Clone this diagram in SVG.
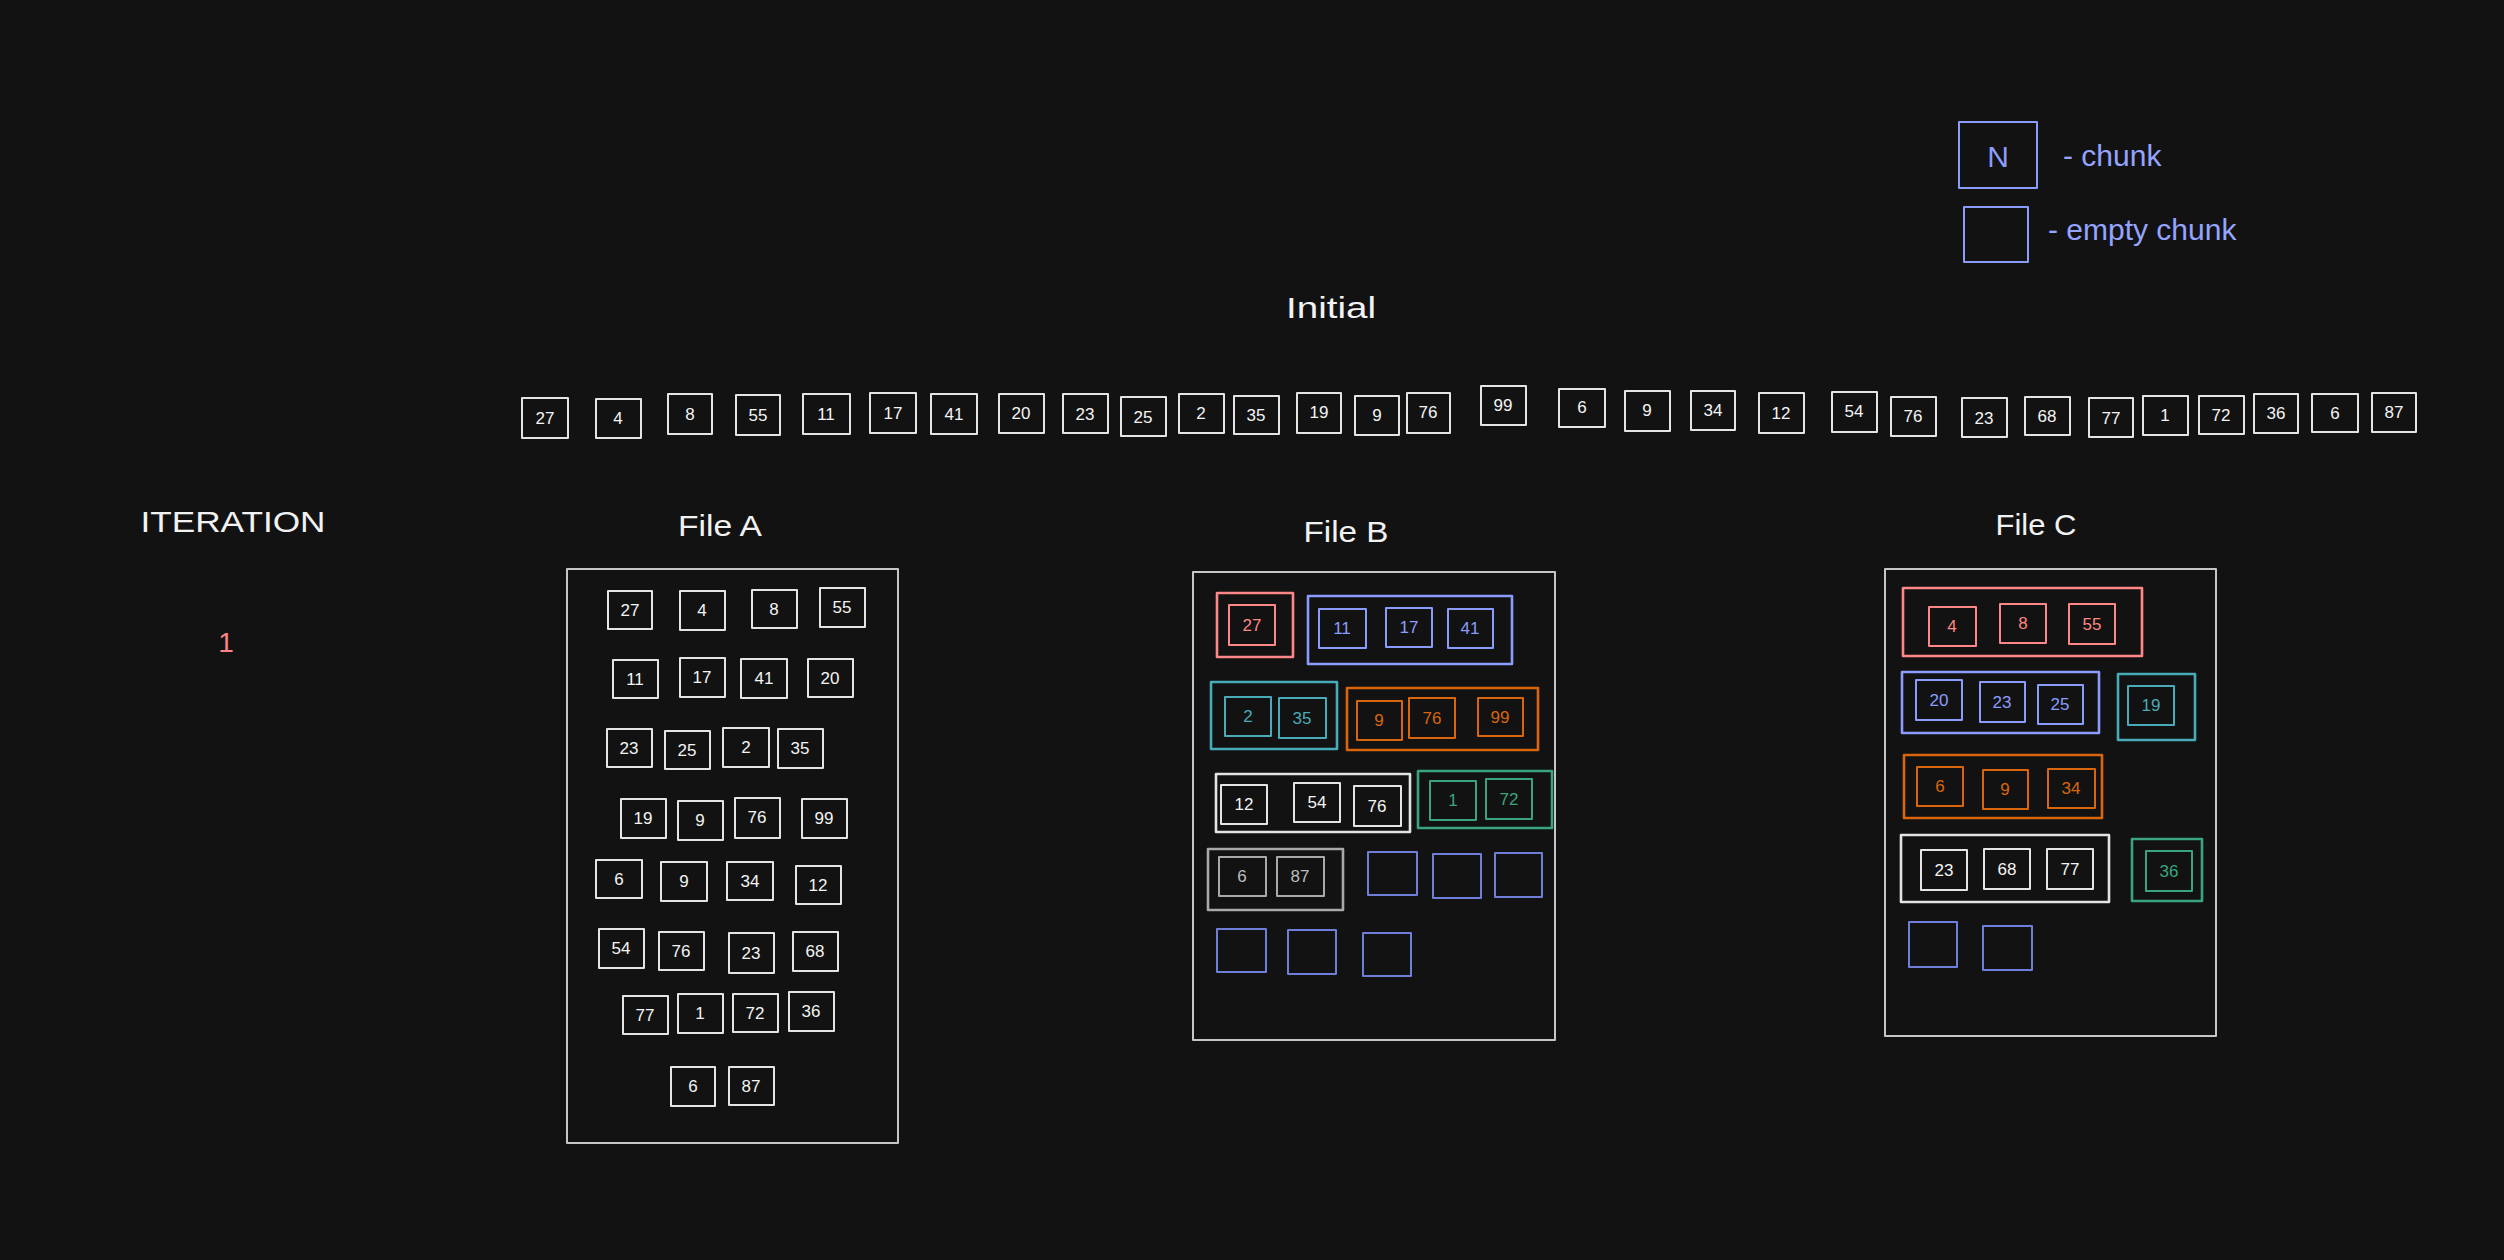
<svg xmlns="http://www.w3.org/2000/svg" width="2504" height="1260" viewBox="0 0 2504 1260">
<style>
rect{fill:none;stroke-width:2;stroke-linejoin:round}
text{font-family:"Liberation Sans",Arial,sans-serif}
.d{font-size:17px;text-anchor:middle;dominant-baseline:central}
.h{fill:#f2f2f2;font-size:29px;text-anchor:middle}
.wh rect{stroke:#e4e4e4}.wh text{fill:#f4f4f4}
.red rect{stroke:#ff8787}.red text{fill:#ff8787}
.blu rect{stroke:#8c9cfc}.blu text{fill:#8c9cfc}
.tea rect{stroke:#4aabb8}.tea text{fill:#4aabb8}
.ora rect{stroke:#d9660c}.ora text{fill:#d9660c}
.grn rect{stroke:#3aa57d}.grn text{fill:#3aa57d}
.gry rect{stroke:#a9a9a9}.gry text{fill:#bdbdbd}
.emp rect{stroke:#6f7ed8}
.grp>rect{stroke-width:2.6}
.file{stroke:#c6c6c6;stroke-width:2}
.leg{fill:#95a4ff;font-size:30px}
</style>
<rect x="0" y="0" width="2504" height="1260" style="fill:#121212;stroke:none"/>

<g id="legend">
<g id="legend-chunk" class="blu"><rect x="1959" y="122" width="78" height="66"/><text x="1998" y="167" class="leg" text-anchor="middle">N</text></g>
<text x="2063" y="166" class="leg">- chunk</text>
<g id="legend-empty" class="blu"><rect x="1964" y="207" width="64" height="55"/></g>
<text x="2048" y="240" class="leg">- empty chunk</text>
</g>

<g id="labels">
<text x="1331" y="318" class="h" textLength="90" lengthAdjust="spacingAndGlyphs">Initial</text>
<text x="233" y="532" class="h" style="font-size:30px" textLength="185" lengthAdjust="spacingAndGlyphs">ITERATION</text>
<text x="226" y="652" style="fill:#ff8383;font-size:28px" text-anchor="middle">1</text>
<text x="720" y="536" class="h" textLength="84" lengthAdjust="spacingAndGlyphs">File A</text>
<text x="1346" y="542" class="h" textLength="85" lengthAdjust="spacingAndGlyphs">File B</text>
<text x="2036" y="535" class="h" textLength="81" lengthAdjust="spacingAndGlyphs">File C</text>
</g>

<g id="initial" class="wh">
<g id="i-27"><rect x="522" y="398" width="46" height="40"/><text x="545" y="418" class="d">27</text></g>
<g id="i-4"><rect x="596" y="399" width="45" height="39"/><text x="618" y="418" class="d">4</text></g>
<g id="i-8"><rect x="668" y="394" width="44" height="40"/><text x="690" y="414" class="d">8</text></g>
<g id="i-55"><rect x="736" y="395" width="44" height="40"/><text x="758" y="415" class="d">55</text></g>
<g id="i-11"><rect x="803" y="394" width="47" height="40"/><text x="826" y="414" class="d">11</text></g>
<g id="i-17"><rect x="870" y="393" width="46" height="40"/><text x="893" y="413" class="d">17</text></g>
<g id="i-41"><rect x="931" y="394" width="46" height="40"/><text x="954" y="414" class="d">41</text></g>
<g id="i-20"><rect x="999" y="394" width="45" height="39"/><text x="1021" y="413" class="d">20</text></g>
<g id="i-23"><rect x="1063" y="394" width="45" height="39"/><text x="1085" y="414" class="d">23</text></g>
<g id="i-25"><rect x="1121" y="397" width="45" height="39"/><text x="1143" y="417" class="d">25</text></g>
<g id="i-2"><rect x="1179" y="394" width="45" height="39"/><text x="1201" y="413" class="d">2</text></g>
<g id="i-35"><rect x="1234" y="396" width="45" height="38"/><text x="1256" y="415" class="d">35</text></g>
<g id="i-19"><rect x="1297" y="393" width="44" height="40"/><text x="1319" y="412" class="d">19</text></g>
<g id="i-9a"><rect x="1355" y="396" width="44" height="39"/><text x="1377" y="415" class="d">9</text></g>
<g id="i-76a"><rect x="1407" y="393" width="43" height="40"/><text x="1428" y="412" class="d">76</text></g>
<g id="i-99"><rect x="1481" y="386" width="45" height="39"/><text x="1503" y="405" class="d">99</text></g>
<g id="i-6a"><rect x="1559" y="389" width="46" height="38"/><text x="1582" y="407" class="d">6</text></g>
<g id="i-9b"><rect x="1625" y="391" width="45" height="40"/><text x="1647" y="410" class="d">9</text></g>
<g id="i-34"><rect x="1691" y="391" width="44" height="39"/><text x="1713" y="410" class="d">34</text></g>
<g id="i-12"><rect x="1759" y="393" width="45" height="40"/><text x="1781" y="413" class="d">12</text></g>
<g id="i-54"><rect x="1832" y="392" width="45" height="40"/><text x="1854" y="411" class="d">54</text></g>
<g id="i-76b"><rect x="1891" y="397" width="45" height="39"/><text x="1913" y="416" class="d">76</text></g>
<g id="i-23b"><rect x="1962" y="398" width="45" height="39"/><text x="1984" y="418" class="d">23</text></g>
<g id="i-68"><rect x="2025" y="397" width="45" height="38"/><text x="2047" y="416" class="d">68</text></g>
<g id="i-77"><rect x="2089" y="398" width="44" height="39"/><text x="2111" y="418" class="d">77</text></g>
<g id="i-1"><rect x="2143" y="396" width="45" height="39"/><text x="2165" y="415" class="d">1</text></g>
<g id="i-72"><rect x="2199" y="396" width="45" height="38"/><text x="2221" y="415" class="d">72</text></g>
<g id="i-36"><rect x="2254" y="394" width="44" height="39"/><text x="2276" y="413" class="d">36</text></g>
<g id="i-6b"><rect x="2312" y="394" width="46" height="38"/><text x="2335" y="413" class="d">6</text></g>
<g id="i-87"><rect x="2372" y="393" width="44" height="39"/><text x="2394" y="412" class="d">87</text></g>
</g>

<g id="fileA">
<rect class="file" x="567" y="569" width="331" height="574"/>
<g class="wh">
<g id="a-27"><rect x="608" y="591" width="44" height="38"/><text x="630" y="610" class="d">27</text></g>
<g id="a-4"><rect x="680" y="591" width="45" height="39"/><text x="702" y="610" class="d">4</text></g>
<g id="a-8"><rect x="752" y="590" width="45" height="38"/><text x="774" y="609" class="d">8</text></g>
<g id="a-55"><rect x="820" y="588" width="45" height="39"/><text x="842" y="607" class="d">55</text></g>
<g id="a-11"><rect x="613" y="660" width="45" height="38"/><text x="635" y="679" class="d">11</text></g>
<g id="a-17"><rect x="680" y="658" width="45" height="39"/><text x="702" y="677" class="d">17</text></g>
<g id="a-41"><rect x="741" y="659" width="46" height="39"/><text x="764" y="678" class="d">41</text></g>
<g id="a-20"><rect x="808" y="659" width="45" height="38"/><text x="830" y="678" class="d">20</text></g>
<g id="a-23"><rect x="607" y="729" width="45" height="38"/><text x="629" y="748" class="d">23</text></g>
<g id="a-25"><rect x="665" y="731" width="45" height="38"/><text x="687" y="750" class="d">25</text></g>
<g id="a-2"><rect x="723" y="728" width="46" height="39"/><text x="746" y="747" class="d">2</text></g>
<g id="a-35"><rect x="778" y="729" width="45" height="39"/><text x="800" y="748" class="d">35</text></g>
<g id="a-19"><rect x="621" y="799" width="45" height="39"/><text x="643" y="818" class="d">19</text></g>
<g id="a-9a"><rect x="678" y="801" width="45" height="39"/><text x="700" y="820" class="d">9</text></g>
<g id="a-76a"><rect x="735" y="798" width="45" height="40"/><text x="757" y="817" class="d">76</text></g>
<g id="a-99"><rect x="802" y="799" width="45" height="39"/><text x="824" y="818" class="d">99</text></g>
<g id="a-6a"><rect x="596" y="860" width="46" height="38"/><text x="619" y="879" class="d">6</text></g>
<g id="a-9b"><rect x="661" y="862" width="46" height="39"/><text x="684" y="881" class="d">9</text></g>
<g id="a-34"><rect x="727" y="862" width="46" height="38"/><text x="750" y="881" class="d">34</text></g>
<g id="a-12"><rect x="796" y="866" width="45" height="38"/><text x="818" y="885" class="d">12</text></g>
<g id="a-54"><rect x="599" y="929" width="45" height="39"/><text x="621" y="948" class="d">54</text></g>
<g id="a-76b"><rect x="659" y="932" width="45" height="38"/><text x="681" y="951" class="d">76</text></g>
<g id="a-23b"><rect x="729" y="933" width="45" height="40"/><text x="751" y="953" class="d">23</text></g>
<g id="a-68"><rect x="793" y="932" width="45" height="39"/><text x="815" y="951" class="d">68</text></g>
<g id="a-77"><rect x="623" y="996" width="45" height="38"/><text x="645" y="1015" class="d">77</text></g>
<g id="a-1"><rect x="678" y="994" width="45" height="39"/><text x="700" y="1013" class="d">1</text></g>
<g id="a-72"><rect x="733" y="994" width="45" height="38"/><text x="755" y="1013" class="d">72</text></g>
<g id="a-36"><rect x="789" y="992" width="45" height="39"/><text x="811" y="1011" class="d">36</text></g>
<g id="a-6b"><rect x="671" y="1067" width="44" height="39"/><text x="693" y="1086" class="d">6</text></g>
<g id="a-87"><rect x="729" y="1067" width="45" height="38"/><text x="751" y="1086" class="d">87</text></g>
</g>
</g>

<g id="fileB">
<rect class="file" x="1193" y="572" width="362" height="468"/>
<g id="b-red" class="red grp"><rect x="1217" y="593" width="76" height="64"/>
<g id="b-27"><rect x="1229" y="605" width="46" height="40"/><text x="1252" y="625" class="d">27</text></g></g>
<g id="b-blue" class="blu grp"><rect x="1308" y="596" width="204" height="68"/>
<g id="b-11"><rect x="1319" y="609" width="47" height="39"/><text x="1342" y="628" class="d">11</text></g>
<g id="b-17"><rect x="1386" y="608" width="46" height="39"/><text x="1409" y="627" class="d">17</text></g>
<g id="b-41"><rect x="1448" y="609" width="45" height="39"/><text x="1470" y="628" class="d">41</text></g></g>
<g id="b-teal" class="tea grp"><rect x="1211" y="682" width="126" height="67"/>
<g id="b-2"><rect x="1225" y="697" width="46" height="39"/><text x="1248" y="716" class="d">2</text></g>
<g id="b-35"><rect x="1279" y="698" width="47" height="40"/><text x="1302" y="718" class="d">35</text></g></g>
<g id="b-orange" class="ora grp"><rect x="1347" y="688" width="191" height="62"/>
<g id="b-9"><rect x="1357" y="701" width="45" height="39"/><text x="1379" y="720" class="d">9</text></g>
<g id="b-76a"><rect x="1409" y="698" width="46" height="40"/><text x="1432" y="718" class="d">76</text></g>
<g id="b-99"><rect x="1478" y="698" width="45" height="38"/><text x="1500" y="717" class="d">99</text></g></g>
<g id="b-white" class="wh grp"><rect x="1216" y="774" width="194" height="58"/>
<g id="b-12"><rect x="1221" y="785" width="46" height="39"/><text x="1244" y="804" class="d">12</text></g>
<g id="b-54"><rect x="1294" y="783" width="46" height="39"/><text x="1317" y="802" class="d">54</text></g>
<g id="b-76b"><rect x="1354" y="786" width="47" height="40"/><text x="1377" y="806" class="d">76</text></g></g>
<g id="b-green" class="grn grp"><rect x="1418" y="771" width="134" height="57"/>
<g id="b-1"><rect x="1430" y="781" width="46" height="39"/><text x="1453" y="800" class="d">1</text></g>
<g id="b-72"><rect x="1486" y="779" width="46" height="40"/><text x="1509" y="799" class="d">72</text></g></g>
<g id="b-gray" class="gry grp"><rect x="1208" y="849" width="135" height="61"/>
<g id="b-6"><rect x="1219" y="857" width="47" height="39"/><text x="1242" y="876" class="d">6</text></g>
<g id="b-87"><rect x="1277" y="857" width="47" height="39"/><text x="1300" y="876" class="d">87</text></g></g>
<g id="b-empty" class="emp">
<g id="b-e1"><rect x="1368" y="852" width="49" height="43"/></g>
<g id="b-e2"><rect x="1433" y="854" width="48" height="44"/></g>
<g id="b-e3"><rect x="1495" y="853" width="47" height="44"/></g>
<g id="b-e4"><rect x="1217" y="929" width="49" height="43"/></g>
<g id="b-e5"><rect x="1288" y="930" width="48" height="44"/></g>
<g id="b-e6"><rect x="1363" y="933" width="48" height="43"/></g>
</g>
</g>

<g id="fileC">
<rect class="file" x="1885" y="569" width="331" height="467"/>
<g id="c-red" class="red grp"><rect x="1903" y="588" width="239" height="68"/>
<g id="c-4"><rect x="1929" y="607" width="47" height="39"/><text x="1952" y="626" class="d">4</text></g>
<g id="c-8"><rect x="2000" y="604" width="46" height="39"/><text x="2023" y="623" class="d">8</text></g>
<g id="c-55"><rect x="2069" y="604" width="46" height="40"/><text x="2092" y="624" class="d">55</text></g></g>
<g id="c-blue" class="blu grp"><rect x="1902" y="672" width="197" height="61"/>
<g id="c-20"><rect x="1916" y="680" width="46" height="40"/><text x="1939" y="700" class="d">20</text></g>
<g id="c-23"><rect x="1980" y="682" width="45" height="40"/><text x="2002" y="702" class="d">23</text></g>
<g id="c-25"><rect x="2038" y="685" width="45" height="39"/><text x="2060" y="704" class="d">25</text></g></g>
<g id="c-teal" class="tea grp"><rect x="2118" y="674" width="77" height="66"/>
<g id="c-19"><rect x="2128" y="686" width="46" height="39"/><text x="2151" y="705" class="d">19</text></g></g>
<g id="c-orange" class="ora grp"><rect x="1904" y="755" width="198" height="63"/>
<g id="c-6"><rect x="1917" y="767" width="46" height="39"/><text x="1940" y="786" class="d">6</text></g>
<g id="c-9"><rect x="1983" y="770" width="45" height="39"/><text x="2005" y="789" class="d">9</text></g>
<g id="c-34"><rect x="2048" y="769" width="47" height="39"/><text x="2071" y="788" class="d">34</text></g></g>
<g id="c-white" class="wh grp"><rect x="1901" y="835" width="208" height="67"/>
<g id="c-23b"><rect x="1921" y="850" width="46" height="40"/><text x="1944" y="870" class="d">23</text></g>
<g id="c-68"><rect x="1984" y="849" width="46" height="40"/><text x="2007" y="869" class="d">68</text></g>
<g id="c-77"><rect x="2047" y="849" width="46" height="40"/><text x="2070" y="869" class="d">77</text></g></g>
<g id="c-green" class="grn grp"><rect x="2132" y="839" width="70" height="62"/>
<g id="c-36"><rect x="2146" y="851" width="46" height="40"/><text x="2169" y="871" class="d">36</text></g></g>
<g id="c-empty" class="emp">
<g id="c-e1"><rect x="1909" y="922" width="48" height="45"/></g>
<g id="c-e2"><rect x="1983" y="926" width="49" height="44"/></g>
</g>
</g>
</svg>
